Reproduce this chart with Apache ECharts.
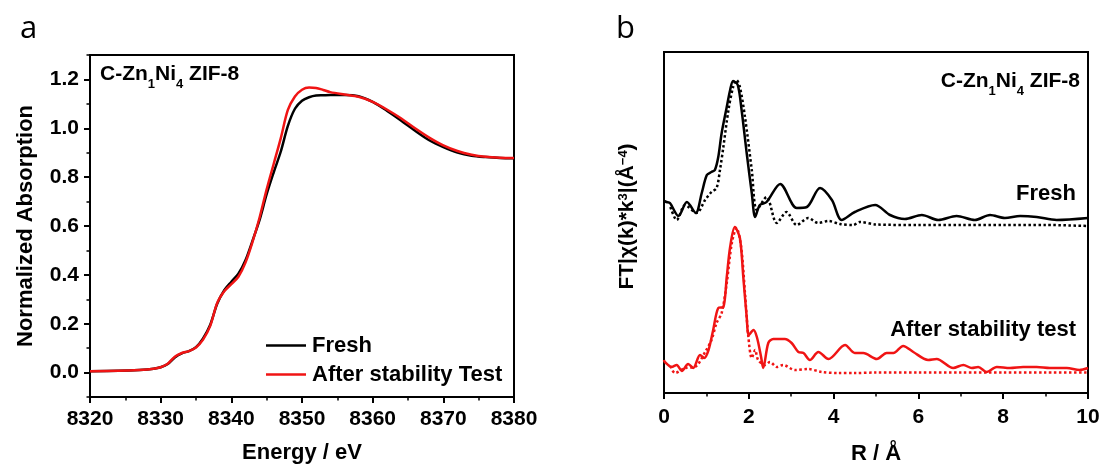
<!DOCTYPE html>
<html>
<head>
<meta charset="utf-8">
<title>C-Zn1Ni4 ZIF-8</title>
<script src="https://cdn.jsdelivr.net/npm/echarts@6/dist/echarts.min.js"></script>
<style>
html,body{margin:0;padding:0;background:#fff;}
#chart{width:1102px;height:468px;}
</style>
</head>
<body>
<div id="chart"></div>
<script>
// (a) XANES, normalized absorption vs energy (eV)
var energy = [8320, 8324, 8327, 8329, 8330, 8331, 8332, 8333, 8334, 8335, 8336, 8337, 8338, 8339, 8340,
  8341, 8342, 8343, 8344, 8345, 8346, 8347, 8348, 8349, 8350, 8351, 8352, 8353, 8354, 8356, 8358,
  8360, 8362, 8364, 8366, 8368, 8370, 8372, 8374, 8376, 8378, 8380];
var absFresh = [0.005, 0.007, 0.011, 0.016, 0.022, 0.035, 0.062, 0.079, 0.088, 0.104, 0.140, 0.195, 0.282, 0.337, 0.372,
  0.405, 0.460, 0.540, 0.625, 0.730, 0.820, 0.905, 1.010, 1.080, 1.113, 1.127, 1.134, 1.135, 1.136, 1.136, 1.131,
  1.108, 1.072, 1.032, 0.990, 0.951, 0.923, 0.901, 0.888, 0.882, 0.878, 0.877];
var absAfter = [0.005, 0.007, 0.011, 0.016, 0.022, 0.036, 0.065, 0.080, 0.088, 0.103, 0.135, 0.190, 0.285, 0.333, 0.362,
  0.392, 0.450, 0.535, 0.635, 0.750, 0.855, 0.960, 1.075, 1.130, 1.158, 1.167, 1.165, 1.157, 1.148, 1.138, 1.129,
  1.108, 1.077, 1.041, 1.000, 0.962, 0.930, 0.907, 0.892, 0.883, 0.879, 0.878];
var yTicksA = [0, 0.2, 0.4, 0.6, 0.8, 1.0, 1.2];

// (b) FT-EXAFS, arbitrary units (stacked), solid = data, dotted = fit
var rFresh = [0, 0.06, 0.14, 0.34, 0.54, 0.75, 0.89, 1.01, 1.12, 1.20, 1.28, 1.36, 1.48, 1.56, 1.63, 1.74, 1.83,
  1.95, 2.07, 2.15, 2.26, 2.42, 2.74, 3.13, 3.37, 3.68, 3.96, 4.19, 4.50, 4.98, 5.33, 5.68, 6.08, 6.47,
  6.90, 7.33, 7.69, 8.04, 8.40, 8.79, 9.26, 10];
var ftFresh = [192, 191, 190, 177, 191, 180, 200, 218, 221, 223, 236, 260, 286, 303, 312, 308, 283,
  240, 200, 176, 188, 191, 209, 185, 186, 205, 193, 173, 181, 188, 178, 174, 178, 173,
  177, 173, 178, 175, 177, 176, 173, 175];
var rFreshFit = [0.15, 0.30, 0.50, 0.77, 0.97, 1.12, 1.24, 1.32, 1.40, 1.52, 1.63, 1.71, 1.79, 1.91, 2.07, 2.19,
  2.42, 2.66, 2.89, 3.13, 3.40, 3.64, 3.88, 4.15, 4.46, 4.62, 5.0, 6, 7, 8, 9, 10];
var ftFreshFit = [186, 173, 188, 180, 193, 201, 205, 223, 246, 283, 306, 313, 306, 276, 223, 183,
  196, 170, 181, 168, 175, 170, 172, 169, 168, 171, 168.5, 168, 168, 168, 168, 167];
var rAfter = [0, 0.02, 0.18, 0.30, 0.42, 0.57, 0.69, 0.85, 0.95, 1.05, 1.16, 1.28, 1.40, 1.48, 1.56, 1.67,
  1.79, 1.87, 1.95, 2.00, 2.11, 2.19, 2.29, 2.34, 2.46, 2.58, 2.85, 3.01, 3.17, 3.29, 3.44, 3.64,
  3.88, 4.27, 4.50, 4.70, 5.02, 5.25, 5.41, 5.64, 5.88, 6.23, 6.43, 6.82, 7.06, 7.26, 7.41, 7.61,
  7.85, 8.16, 8.47, 8.79, 9.10, 9.5, 9.8, 10];
var ftAfter = [33, 31, 26, 28, 22, 29, 25, 38, 35, 43, 63, 85, 86, 116, 146, 166,
  155, 116, 76, 58, 63, 56, 36, 25, 50, 54, 54, 50, 41, 40, 33, 41,
  34, 48, 40, 40, 34, 40, 40, 47, 41, 33, 34, 25, 28, 25, 26, 21,
  26, 25, 26, 26, 25, 25, 23, 25];
var rAfterFit = [0.15, 0.26, 0.50, 0.73, 0.97, 1.12, 1.24, 1.36, 1.48, 1.60, 1.71, 1.82, 1.91, 1.99, 2.07, 2.15,
  2.22, 2.38, 2.50, 2.66, 2.81, 3.09, 3.40, 3.72, 4.11, 4.50, 5, 6, 7, 8, 9, 10];
var ftAfterFit = [27, 20, 25, 26, 41, 53, 70, 80, 110, 150, 165, 146, 100, 56, 35, 43,
  33, 28, 31, 26, 28, 23, 24, 21, 20, 20, 20.5, 20.5, 20.5, 20.5, 20.5, 20.5];

var FONT = "'Liberation Sans', Arial, sans-serif";
var RED = '#f01414';

function pairs(xs, ys) {
  var out = [];
  for (var i = 0; i < xs.length; i++) out.push([xs[i], ys[i]]);
  return out;
}

function boldText(size, extra) {
  var s = {color: '#000', fontFamily: FONT, fontWeight: 'bold', fontSize: size};
  for (var k in extra) s[k] = extra[k];
  return s;
}

// labels with sub-/superscripts
var richLabel = {
  m: boldText(21, {lineHeight: 21, verticalAlign: 'top'}),
  s: boldText(13, {lineHeight: 27, verticalAlign: 'bottom'}),
  big: boldText(22, {lineHeight: 22, verticalAlign: 'top'})
};
var richAxisName = {
  m: boldText(21, {lineHeight: 26, verticalAlign: 'top'}),
  sup: boldText(13, {lineHeight: 14, verticalAlign: 'top'})
};

var axisLine = {show: true, onZero: false, lineStyle: {color: '#000', width: 2}};
var majorTick = {show: true, inside: false, length: 6, lineStyle: {color: '#000', width: 2}};
var minorTick = {show: true, splitNumber: 2, length: 3.5, lineStyle: {color: '#000', width: 1.5}};
var tickLabel = {color: '#000', fontFamily: FONT, fontWeight: 'bold', fontSize: 21};

var myChart = echarts.init(document.getElementById('chart'), null, {renderer: 'canvas'});

var option = {
  animation: false,
  backgroundColor: '#fff',
  grid: [
    {left: 90, top: 55, width: 424, height: 342, outerBoundsMode: 'none', containLabel: false,
      show: true, borderColor: '#000', borderWidth: 2, backgroundColor: 'transparent'},
    {left: 664, top: 52, width: 424, height: 341, outerBoundsMode: 'none', containLabel: false,
      show: true, borderColor: '#000', borderWidth: 2, backgroundColor: 'transparent'}
  ],
  legend: {
    data: ['Fresh', 'After stability Test'],
    orient: 'vertical',
    left: 261,
    top: 329,
    icon: 'rect',
    itemWidth: 40,
    itemHeight: 2.5,
    itemGap: 6,
    textStyle: boldText(22, {lineHeight: 23, padding: [0, 0, 0, 1]})
  },
  xAxis: [
    {
      gridIndex: 0, type: 'value', min: 8320, max: 8380, interval: 10,
      axisLine: axisLine, axisTick: majorTick, minorTick: minorTick,
      axisLabel: Object.assign({margin: 12, formatter: function (v) { return String(v); }}, tickLabel),
      splitLine: {show: false},
      name: 'Energy / eV', nameLocation: 'middle', nameGap: 45,
      nameTextStyle: boldText(22, {})
    },
    {
      gridIndex: 1, type: 'value', min: 0, max: 10, interval: 2,
      axisLine: axisLine, axisTick: majorTick, minorTick: minorTick,
      axisLabel: Object.assign({margin: 14, formatter: function (v) { return String(v); }}, tickLabel),
      splitLine: {show: false},
      name: 'R / Å', nameLocation: 'middle', nameGap: 50,
      nameTextStyle: boldText(22, {})
    }
  ],
  yAxis: [
    {
      gridIndex: 0, type: 'value', min: -0.1, max: 1.3, interval: 0.1,
      axisLine: axisLine,
      axisTick: {show: true, inside: false, length: 3.5, lineStyle: {color: '#000', width: 1.5}},
      axisLabel: Object.assign({
        margin: 11,
        formatter: function (v) {
          var k = Math.round(v * 10);
          return (k >= 0 && k % 2 === 0) ? (k / 10).toFixed(1) : '';
        }
      }, tickLabel),
      splitLine: {show: false},
      name: 'Normalized Absorption', nameLocation: 'middle', nameGap: 53,
      nameTextStyle: boldText(22, {})
    },
    {
      // long ticks at the labelled values
      gridIndex: 0, type: 'value', min: -0.1, max: 1.3, position: 'left',
      axisLine: {show: false},
      axisTick: {show: true, inside: false, length: 6, customValues: yTicksA, lineStyle: {color: '#000', width: 2}},
      axisLabel: {show: false},
      splitLine: {show: false}
    },
    {
      gridIndex: 1, type: 'value', min: 0, max: 341,
      axisLine: axisLine, axisTick: {show: false}, axisLabel: {show: false},
      splitLine: {show: false},
      name: '{m|FT|χ(k)*k}{sup|3}{m||(Å}{sup|−4}{m|)}', nameLocation: 'middle', nameGap: 21,
      nameTextStyle: {rich: richAxisName, padding: [0, 0, 0, 12]}
    }
  ],
  series: [
    {
      name: 'Fresh', type: 'line', xAxisIndex: 0, yAxisIndex: 0,
      data: pairs(energy, absFresh), smooth: 0.3, symbol: 'none',
      color: '#000', lineStyle: {width: 2.5, color: '#000'}
    },
    {
      name: 'After stability Test', type: 'line', xAxisIndex: 0, yAxisIndex: 0,
      data: pairs(energy, absAfter), smooth: 0.3, symbol: 'none',
      color: RED, lineStyle: {width: 2.5, color: RED}
    },
    {
      name: 'Fresh fit', type: 'line', xAxisIndex: 1, yAxisIndex: 2,
      data: pairs(rFreshFit, ftFreshFit), smooth: 0.3, symbol: 'none',
      lineStyle: {width: 2.5, color: '#000', type: [2.5, 2.5]}
    },
    {
      name: 'Fresh data', type: 'line', xAxisIndex: 1, yAxisIndex: 2,
      data: pairs(rFresh, ftFresh), smooth: 0.3, symbol: 'none',
      lineStyle: {width: 2.5, color: '#000'}
    },
    {
      name: 'After fit', type: 'line', xAxisIndex: 1, yAxisIndex: 2,
      data: pairs(rAfterFit, ftAfterFit), smooth: 0.3, symbol: 'none',
      lineStyle: {width: 2.5, color: RED, type: [2.5, 2.5]}
    },
    {
      name: 'After data', type: 'line', xAxisIndex: 1, yAxisIndex: 2,
      data: pairs(rAfter, ftAfter), smooth: 0.3, symbol: 'none',
      lineStyle: {width: 2.5, color: RED}
    }
  ],
  graphic: [
    {type: 'text', left: 20, top: 14, style: {text: 'a', fill: '#000', font: "31px 'Open Sans', sans-serif"}},
    {type: 'text', left: 616, top: 14, style: {text: 'b', fill: '#000', font: "31px 'Open Sans', sans-serif"}},
    {type: 'text', left: 100, top: 64, style: {text: '{m|C-Zn}{s|1}{m|Ni}{s|4}{m| ZIF-8}', rich: richLabel}},
    {type: 'text', right: 22, top: 71, style: {text: '{m|C-Zn}{s|1}{m|Ni}{s|4}{m| ZIF-8}', rich: richLabel}},
    {type: 'text', right: 26, top: 183, style: {text: '{big|Fresh}', rich: richLabel}},
    {type: 'text', right: 26, top: 319, style: {text: '{big|After stability test}', rich: richLabel}}
  ]
};

myChart.setOption(option);
</script>
</body>
</html>
